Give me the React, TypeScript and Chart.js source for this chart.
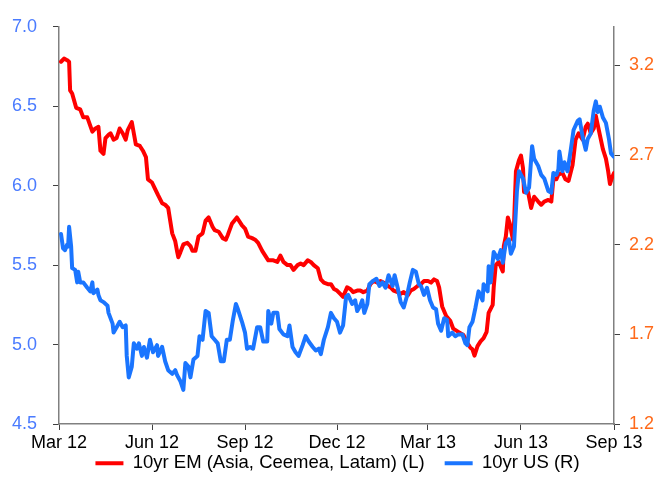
import { useEffect, useRef } from 'react';
import { Chart, registerables } from 'chart.js';

Chart.register(...registerables);

// x values: days since 1 Mar 2012
const tickDays = [0, 92, 184, 275, 365, 457, 549];
const tickLabels = ['Mar 12', 'Jun 12', 'Sep 12', 'Dec 12', 'Mar 13', 'Jun 13', 'Sep 13'];
const rightTicks = [1.2, 1.7, 2.2, 2.7, 3.2];

const emLabel = '10yr EM (Asia, Ceemea, Latam) (L)';
const usLabel = '10yr US (R)';

// [day, yield %] — EM 10yr (left axis)
const emSeries: [number, number][] = [
  [2, 6.78], [5, 6.80], [8, 6.79], [10, 6.78], [11, 6.60], [13, 6.58], [17, 6.49], [21, 6.48], [24, 6.43], [28, 6.43],
  [33, 6.34], [36, 6.36], [39, 6.37], [41, 6.22], [44, 6.20], [46, 6.30], [49, 6.32], [51, 6.33], [54, 6.29], [57, 6.30],
  [60, 6.36], [63, 6.33], [66, 6.29], [68, 6.35], [72, 6.40], [74, 6.33], [76, 6.26], [80, 6.25], [83, 6.22], [86, 6.18],
  [88, 6.04], [92, 6.02], [95, 5.98], [98, 5.94], [102, 5.89], [105, 5.88], [108, 5.86], [110, 5.78], [112, 5.70], [115, 5.65],
  [117, 5.58], [118, 5.55], [120, 5.58], [123, 5.63], [127, 5.64], [130, 5.62], [132, 5.59], [135, 5.59], [138, 5.68], [142, 5.70],
  [145, 5.78], [148, 5.80], [152, 5.74], [154, 5.72], [158, 5.71], [162, 5.67], [165, 5.66], [167, 5.69], [171, 5.76], [176, 5.80],
  [181, 5.75], [184, 5.73], [187, 5.68], [191, 5.67], [194, 5.66], [197, 5.64], [201, 5.59], [204, 5.56], [207, 5.53], [212, 5.53],
  [216, 5.52], [219, 5.56], [222, 5.52], [226, 5.50], [229, 5.50], [232, 5.47], [236, 5.50], [239, 5.51], [242, 5.50], [246, 5.53],
  [249, 5.52], [252, 5.50], [256, 5.48], [259, 5.41], [262, 5.39], [266, 5.38], [269, 5.38], [272, 5.35], [275, 5.34], [278, 5.32],
  [281, 5.30], [285, 5.36], [288, 5.35], [291, 5.33], [295, 5.34], [298, 5.34], [301, 5.33], [305, 5.34], [308, 5.38], [311, 5.40],
  [315, 5.39], [318, 5.40], [321, 5.39], [325, 5.37], [328, 5.36], [331, 5.34], [335, 5.33], [338, 5.32], [341, 5.33], [345, 5.31],
  [348, 5.34], [351, 5.35], [355, 5.37], [358, 5.38], [361, 5.40], [365, 5.40], [368, 5.39], [371, 5.41], [374, 5.40], [376, 5.36],
  [379, 5.24], [383, 5.18], [387, 5.15], [390, 5.10], [395, 5.08], [400, 5.06], [404, 5.01], [407, 4.98], [409, 4.97], [411, 4.93],
  [414, 4.99], [417, 5.02], [420, 5.04], [423, 5.08], [425, 5.20], [429, 5.25], [430, 5.36], [432, 5.50], [435, 5.52], [439, 5.46],
  [440, 5.62], [442, 5.68], [444, 5.80], [446, 5.76], [449, 5.66], [450, 5.74], [452, 6.09], [455, 6.16], [457, 6.19], [459, 6.11],
  [460, 5.96], [464, 5.96], [467, 5.86], [470, 5.93], [474, 5.90], [477, 5.88], [480, 5.90], [484, 5.91], [487, 5.90], [489, 6.04],
  [492, 6.04], [494, 6.07], [498, 6.08], [501, 6.04], [504, 6.03], [508, 6.13], [511, 6.29], [514, 6.33], [518, 6.29], [521, 6.37],
  [523, 6.39], [526, 6.33], [529, 6.36], [531, 6.44], [534, 6.35], [538, 6.23], [541, 6.17], [543, 6.10], [545, 6.01], [547, 6.05],
  [549, 6.08],
];

// [day, yield %] — US 10yr (right axis)
const usSeries: [number, number][] = [
  [2, 2.26], [4, 2.18], [6, 2.17], [8, 2.20], [9, 2.19], [10, 2.30], [12, 2.19], [13, 2.07], [16, 2.06], [18, 1.99],
  [19, 2.05], [21, 1.99], [24, 1.99], [28, 1.96], [31, 1.94], [33, 1.99], [34, 1.93], [38, 1.95], [39, 1.92], [41, 1.89],
  [44, 1.88], [48, 1.86], [49, 1.82], [53, 1.76], [54, 1.71], [57, 1.74], [60, 1.77], [62, 1.75], [63, 1.74], [66, 1.75],
  [67, 1.58], [69, 1.46], [72, 1.52], [74, 1.65], [77, 1.62], [79, 1.65], [82, 1.58], [84, 1.63], [87, 1.57], [90, 1.67],
  [93, 1.60], [97, 1.64], [98, 1.58], [102, 1.63], [105, 1.55], [108, 1.50], [112, 1.48], [115, 1.50], [117, 1.47], [120, 1.44],
  [123, 1.39], [125, 1.54], [128, 1.52], [130, 1.46], [133, 1.56], [137, 1.58], [139, 1.69], [142, 1.67], [145, 1.83], [148, 1.82],
  [151, 1.69], [154, 1.67], [157, 1.65], [160, 1.55], [163, 1.55], [166, 1.67], [169, 1.67], [172, 1.78], [175, 1.87], [177, 1.84],
  [181, 1.77], [184, 1.71], [186, 1.62], [189, 1.63], [192, 1.62], [196, 1.74], [199, 1.74], [202, 1.66], [206, 1.66], [207, 1.83],
  [210, 1.76], [212, 1.82], [216, 1.82], [218, 1.73], [222, 1.70], [226, 1.69], [228, 1.75], [231, 1.63], [234, 1.60], [237, 1.58],
  [241, 1.64], [244, 1.69], [247, 1.66], [251, 1.63], [254, 1.61], [257, 1.62], [259, 1.59], [262, 1.67], [266, 1.74], [269, 1.82],
  [272, 1.79], [275, 1.77], [278, 1.71], [281, 1.75], [284, 1.91], [286, 1.92], [290, 1.87], [293, 1.89], [295, 1.83], [298, 1.86],
  [300, 1.89], [302, 1.82], [305, 1.87], [307, 1.98], [311, 2.00], [314, 2.01], [317, 1.97], [320, 1.99], [323, 1.96], [326, 2.03],
  [330, 1.97], [332, 2.03], [335, 1.96], [338, 1.88], [341, 1.85], [344, 1.91], [347, 1.99], [350, 2.06], [353, 2.05], [356, 1.98],
  [358, 1.97], [361, 1.92], [364, 1.96], [367, 1.89], [370, 1.85], [373, 1.84], [375, 1.76], [378, 1.72], [381, 1.79], [384, 1.78],
  [385, 1.69], [389, 1.71], [392, 1.69], [395, 1.70], [399, 1.70], [402, 1.65], [404, 1.64], [406, 1.74], [409, 1.77], [412, 1.85],
  [415, 1.94], [419, 1.89], [420, 1.98], [424, 1.94], [425, 2.08], [427, 1.99], [430, 2.16], [434, 2.12], [437, 2.17], [439, 2.10],
  [442, 2.21], [445, 2.23], [447, 2.15], [450, 2.19], [453, 2.50], [455, 2.61], [459, 2.57], [462, 2.49], [465, 2.52], [468, 2.75],
  [470, 2.68], [474, 2.64], [477, 2.59], [480, 2.57], [484, 2.50], [487, 2.49], [489, 2.60], [492, 2.59], [494, 2.62], [495, 2.72],
  [498, 2.61], [500, 2.66], [503, 2.61], [506, 2.72], [509, 2.84], [513, 2.89], [515, 2.90], [518, 2.80], [521, 2.73], [523, 2.79],
  [526, 2.82], [529, 2.95], [531, 3.00], [533, 2.94], [535, 2.97], [538, 2.91], [541, 2.88], [544, 2.79], [546, 2.71], [549, 2.69],
];

const FONT = '"Liberation Sans", Arial, Helvetica, sans-serif';
const RED = '#ff0000';
const BLUE = '#1a75ff';
const LEFT_TICK_COLOR = '#4a7bff';
const RIGHT_TICK_COLOR = '#ff6a1a';

// nudges the centred legend slightly right and up, as in the reference
const legendShift = {
  id: 'legendShift',
  afterLayout(chart: any) {
    if (chart.legend) {
      chart.legend.left += 18;
      chart.legend.top -= 20;
    }
  },
};

export default function App() {
  const ref = useRef<HTMLCanvasElement>(null);

  useEffect(() => {
    if (!ref.current) return;
    const tickGrid = { drawOnChartArea: false, drawTicks: true, tickLength: 6, color: '#404040', lineWidth: 1 };
    const axisBorder = { display: true, color: '#808080', width: 1.5 };
    const lineStyle = {
      borderWidth: 4,
      pointRadius: 0,
      tension: 0,
      borderJoinStyle: 'round',
      borderCapStyle: 'round',
    };

    const chart = new Chart(ref.current, {
      type: 'line',
      data: {
        datasets: [
          {
            label: emLabel,
            data: emSeries.map(([x, y]) => ({ x, y })),
            yAxisID: 'y',
            borderColor: RED,
            backgroundColor: RED,
            ...lineStyle,
            order: 1,
          },
          {
            label: usLabel,
            data: usSeries.map(([x, y]) => ({ x, y })),
            yAxisID: 'y1',
            borderColor: BLUE,
            backgroundColor: BLUE,
            ...lineStyle,
            order: 0,
          },
        ],
      },
      options: {
        responsive: false,
        animation: false,
        devicePixelRatio: 1,
        layout: { padding: { left: 0, top: 13, right: 0, bottom: 0 } },
        scales: {
          x: {
            type: 'linear',
            position: 'bottom',
            min: tickDays[0],
            max: tickDays[tickDays.length - 1],
            afterBuildTicks: (s: any) => {
              s.ticks = tickDays.map((v) => ({ value: v }));
            },
            afterFit: (s: any) => {
              s.height = 30;
            },
            ticks: {
              autoSkip: false,
              maxRotation: 0,
              padding: 2,
              color: '#000000',
              font: { size: 18, family: FONT },
              callback: (_v: any, i: number) => tickLabels[i],
            },
            grid: tickGrid,
            border: axisBorder,
          },
          y: {
            position: 'left',
            min: 4.5,
            max: 7.0,
            afterFit: (s: any) => {
              s.width = 59;
            },
            ticks: {
              stepSize: 0.5,
              padding: 16,
              color: LEFT_TICK_COLOR,
              font: { size: 18, family: FONT },
              callback: (v: any) => Number(v).toFixed(1),
            },
            grid: tickGrid,
            border: axisBorder,
          },
          y1: {
            position: 'right',
            min: 1.2,
            max: 3.416,
            afterBuildTicks: (s: any) => {
              s.ticks = rightTicks.map((v) => ({ value: v }));
            },
            afterFit: (s: any) => {
              s.width = 43;
            },
            ticks: {
              padding: 9,
              color: RIGHT_TICK_COLOR,
              font: { size: 18, family: FONT },
              callback: (v: any) => Number(v).toFixed(1),
            },
            grid: tickGrid,
            border: axisBorder,
          },
        },
        plugins: {
          legend: {
            position: 'bottom',
            maxHeight: 39,
            labels: {
              boxWidth: 28,
              boxHeight: 4,
              padding: 20,
              color: '#000000',
              font: { size: 18.5, family: FONT },
              generateLabels: (c: any) =>
                (Chart.defaults.plugins.legend.labels as any)
                  .generateLabels(c)
                  .map((l: any) => ({ ...l, lineWidth: 0, fillStyle: l.strokeStyle })),
              sort: (a: any, b: any) => a.datasetIndex - b.datasetIndex,
            },
          },
          tooltip: { enabled: false },
        },
      } as any,
      plugins: [legendShift],
    });

    return () => chart.destroy();
  }, []);

  return (
    <div style={{ position: 'absolute', left: 0, top: 0, width: 657, height: 493, background: '#ffffff' }}>
      <canvas ref={ref} width={657} height={493} style={{ display: 'block' }} />
    </div>
  );
}
